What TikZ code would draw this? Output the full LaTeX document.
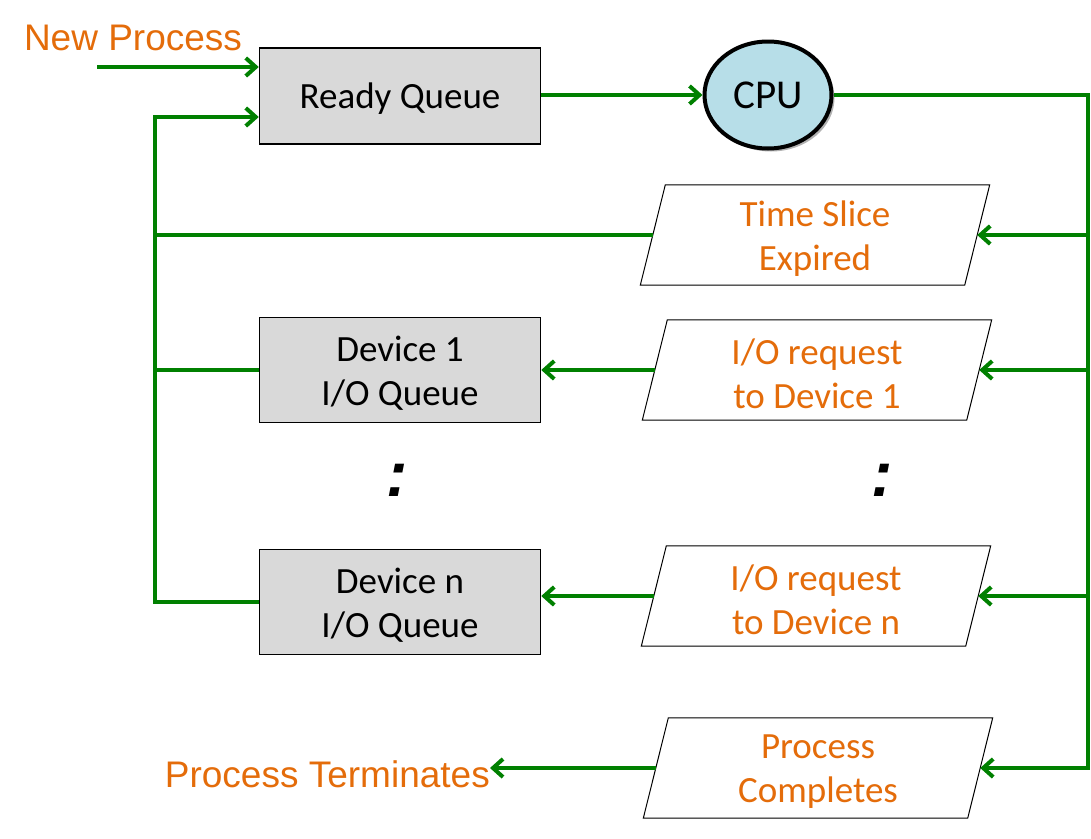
\documentclass[tikz,border=0pt]{standalone}
\usepackage{fontspec}
\setmainfont{Carlito}
\newfontfamily\arialfont{Liberation Sans}
\usetikzlibrary{arrows.meta,shadows,calc,shapes.geometric}
\definecolor{orng}{HTML}{E46C0A}
\definecolor{grn}{HTML}{008000}
\definecolor{boxgray}{HTML}{D9D9D9}
\definecolor{cpublue}{HTML}{B7DEE8}
\newcommand\paradraw[1]{\draw[line width=1pt,fill=white] ($(#1.north west)+(12.5,0)$) -- ($(#1.north east)+(12.5,0)$) -- ($(#1.south east)+(-12.5,0)$) -- ($(#1.south west)+(-12.5,0)$) -- cycle;}
\begin{document}
\begin{tikzpicture}[x=1pt,y=-1pt,
 qbox/.style={draw=black, line width=1.5pt, fill=boxgray, minimum width=281pt, minimum height=105pt, inner sep=0pt},
 txt/.style={align=center, inner sep=0pt, font=\fontsize{37}{44}\selectfont},
 para/.style={minimum width=324pt, minimum height=100pt, inner sep=0pt},
 otxt/.style={txt, text=orng},
 flow/.style={draw=grn, line width=4pt},
 arr/.style={flow, -{Straight Barb[length=10pt,width=18pt,line width=4pt]}},
 lbl/.style={text=orng, font=\arialfont\fontsize{37}{44}\selectfont, inner sep=0pt},
 dots/.style={font=\arialfont\fontsize{64}{64}\selectfont\bfseries\itshape, inner sep=0pt}
]
\useasboundingbox (0,0) rectangle (1091,838);

% boxes
\node[qbox, minimum height=96pt] (rq) at (400,96) {};
\node[qbox] (d1) at (400,370) {};
\node[qbox] (dn) at (400,602) {};
\node[txt] at ($(rq.center)+(0,3)$) {Ready Queue};
\node[txt] at ($(d1.center)+(0,3)$) {Device 1\\I/O Queue};
\node[txt] at ($(dn.center)+(0,3)$) {Device n\\I/O Queue};
\node[ellipse, draw=black, line width=4pt, fill=cpublue, minimum width=127pt, minimum height=107pt, inner sep=0pt,
      font=\fontsize{41}{44}\selectfont,
      drop shadow={shadow xshift=3pt, shadow yshift=-3pt, opacity=0.3, fill=black}] (cpu) at (768,95) {CPU};

% parallelograms
\node[para] (ts) at (815,235) {};
\node[para] (io1) at (817,370) {};
\node[para] (ion) at (816,596) {};
\node[para] (pc) at (818,768) {};
\paradraw{ts}\paradraw{io1}\paradraw{ion}\paradraw{pc}
\node[otxt] at ($(ts.center)+(0,4)$) {Time Slice\\Expired};
\node[otxt] at ($(io1.center)+(0,4)$) {I/O request\\to Device 1};
\node[otxt] at ($(ion.center)+(0,4)$) {I/O request\\to Device n};
\node[otxt] at ($(pc.center)+(0,4)$) {Process\\Completes};

% labels
\node[lbl, anchor=base] (np) at (133,50) {New Process};
\node[lbl, anchor=base east] (pt) at (490,787) {Process Terminates};
\node[dots] (c1) at (397,480) {:};
\node[dots] (c2) at (882,480) {:};

% coordinates
\coordinate (ns) at (97,67);
\coordinate (lt) at (155,117);
\coordinate (rt) at (1088,95);

% connectors
\draw[arr] (ns) -- (ns -| rq.west);
\draw[arr] (dn.west) -- (dn.west -| lt) -- (lt) -- (lt -| rq.west);
\draw[flow] (ts.west) -- (ts.west -| lt);
\draw[flow] (d1.west) -- (d1.west -| lt);
\draw[arr] (rq.east |- cpu.west) -- (cpu.west);
\draw[arr] (cpu.east) -- (rt) -- (rt |- pc.east) -- (pc.east);
\draw[arr] (rt |- ts.east) -- (ts.east);
\draw[arr] (rt |- io1.east) -- (io1.east);
\draw[arr] (rt |- ion.east) -- (ion.east);
\draw[arr] (io1.west) -- (io1.west -| d1.east);
\draw[arr] (ion.west) -- (ion.west -| dn.east);
\draw[arr] (pc.west) -- (pc.west -| pt.east);
\end{tikzpicture}
\end{document}
